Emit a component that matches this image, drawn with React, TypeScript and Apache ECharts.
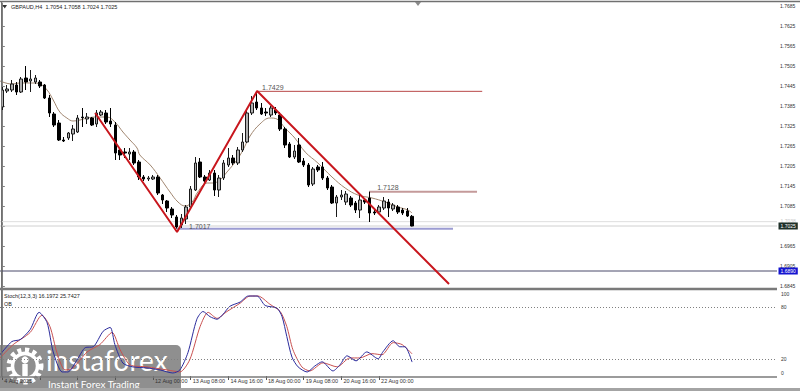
import React, { useEffect, useRef } from 'react';
import * as echarts from 'echarts';

const FONT = 'Liberation Sans, Arial, sans-serif';
const SLOTS = 165;
const categories = Array.from({ length: SLOTS }, (_, i) => String(i));

const titleText = 'GBPAUD,H4  1.7054 1.7058 1.7024 1.7025';
const stochTitle = 'Stoch(12,3,3) 16.1972 25.7427';

// [open, close, low, high]
const candles: number[][] = [
  [1.7382, 1.7433, 1.7373, 1.7442],
  [1.7430, 1.7436, 1.7424, 1.7448],
  [1.7433, 1.7451, 1.7427, 1.7463],
  [1.7448, 1.7427, 1.7418, 1.7457],
  [1.7427, 1.7466, 1.7424, 1.7472],
  [1.7469, 1.7457, 1.7433, 1.7505],
  [1.7460, 1.7466, 1.7427, 1.7493],
  [1.7457, 1.7469, 1.7451, 1.7478],
  [1.7457, 1.7445, 1.7439, 1.7463],
  [1.7448, 1.7409, 1.7406, 1.7451],
  [1.7409, 1.7364, 1.7352, 1.7418],
  [1.7361, 1.7328, 1.7322, 1.7367],
  [1.7334, 1.7283, 1.7280, 1.7343],
  [1.7283, 1.7280, 1.7277, 1.7292],
  [1.7289, 1.7304, 1.7283, 1.7307],
  [1.7301, 1.7316, 1.7280, 1.7328],
  [1.7307, 1.7349, 1.7304, 1.7358],
  [1.7352, 1.7350, 1.7322, 1.7379],
  [1.7346, 1.7352, 1.7331, 1.7364],
  [1.7349, 1.7328, 1.7325, 1.7352],
  [1.7331, 1.7364, 1.7322, 1.7373],
  [1.7358, 1.7367, 1.7355, 1.7373],
  [1.7364, 1.7337, 1.7331, 1.7373],
  [1.7340, 1.7331, 1.7322, 1.7379],
  [1.7328, 1.7244, 1.7223, 1.7337],
  [1.7253, 1.7238, 1.7223, 1.7259],
  [1.7247, 1.7244, 1.7229, 1.7259],
  [1.7241, 1.7247, 1.7223, 1.7259],
  [1.7247, 1.7214, 1.7208, 1.7253],
  [1.7217, 1.7172, 1.7163, 1.7223],
  [1.7172, 1.7166, 1.7160, 1.7178],
  [1.7166, 1.7169, 1.7160, 1.7175],
  [1.7166, 1.7172, 1.7163, 1.7178],
  [1.7172, 1.7124, 1.7118, 1.7178],
  [1.7118, 1.7103, 1.7091, 1.7121],
  [1.7100, 1.7079, 1.7067, 1.7103],
  [1.7076, 1.7058, 1.7049, 1.7082],
  [1.7052, 1.7022, 1.7017, 1.7058],
  [1.7028, 1.7049, 1.7019, 1.7061],
  [1.7046, 1.7082, 1.7031, 1.7088],
  [1.7082, 1.7136, 1.7079, 1.7145],
  [1.7133, 1.7214, 1.7130, 1.7232],
  [1.7217, 1.7172, 1.7169, 1.7229],
  [1.7172, 1.7160, 1.7154, 1.7178],
  [1.7163, 1.7184, 1.7160, 1.7193],
  [1.7184, 1.7133, 1.7115, 1.7193],
  [1.7133, 1.7169, 1.7112, 1.7178],
  [1.7169, 1.7214, 1.7163, 1.7223],
  [1.7208, 1.7229, 1.7202, 1.7259],
  [1.7229, 1.7214, 1.7208, 1.7238],
  [1.7214, 1.7253, 1.7208, 1.7262],
  [1.7253, 1.7277, 1.7247, 1.7304],
  [1.7277, 1.7364, 1.7274, 1.7373],
  [1.7364, 1.7394, 1.7358, 1.7415],
  [1.7397, 1.7379, 1.7373, 1.7429],
  [1.7379, 1.7361, 1.7358, 1.7394],
  [1.7367, 1.7364, 1.7355, 1.7379],
  [1.7358, 1.7379, 1.7352, 1.7385],
  [1.7373, 1.7364, 1.7358, 1.7382],
  [1.7358, 1.7316, 1.7310, 1.7367],
  [1.7316, 1.7268, 1.7259, 1.7322],
  [1.7271, 1.7232, 1.7229, 1.7277],
  [1.7232, 1.7250, 1.7226, 1.7268],
  [1.7268, 1.7217, 1.7214, 1.7289],
  [1.7220, 1.7208, 1.7202, 1.7229],
  [1.7208, 1.7148, 1.7142, 1.7214],
  [1.7151, 1.7196, 1.7145, 1.7202],
  [1.7202, 1.7193, 1.7187, 1.7208],
  [1.7202, 1.7169, 1.7163, 1.7217],
  [1.7169, 1.7139, 1.7133, 1.7175],
  [1.7142, 1.7094, 1.7091, 1.7148],
  [1.7094, 1.7112, 1.7052, 1.7118],
  [1.7112, 1.7118, 1.7103, 1.7133],
  [1.7097, 1.7121, 1.7088, 1.7130],
  [1.7109, 1.7088, 1.7082, 1.7115],
  [1.7094, 1.7073, 1.7064, 1.7100],
  [1.7073, 1.7103, 1.7049, 1.7118],
  [1.7103, 1.7097, 1.7091, 1.7109],
  [1.7109, 1.7064, 1.7037, 1.7128],
  [1.7067, 1.7064, 1.7058, 1.7073],
  [1.7067, 1.7082, 1.7061, 1.7088],
  [1.7079, 1.7100, 1.7073, 1.7112],
  [1.7097, 1.7079, 1.7052, 1.7106],
  [1.7076, 1.7088, 1.7070, 1.7094],
  [1.7082, 1.7067, 1.7061, 1.7088],
  [1.7073, 1.7064, 1.7058, 1.7079],
  [1.7070, 1.7055, 1.7052, 1.7079],
  [1.7054, 1.7025, 1.7024, 1.7058],
];

// moving average: [bar index, price]
const maPoints: number[][] = [
  [-0.5, 1.7460], [2, 1.7451], [3.8, 1.7454], [6.5, 1.7454], [8, 1.7451], [9.5, 1.7433],
  [10.8, 1.7403], [12.2, 1.7367], [13.7, 1.7349], [15, 1.7340], [16.5, 1.7343], [18, 1.7349],
  [20.1, 1.7352], [22.2, 1.7352], [23.9, 1.7337], [25.6, 1.7307], [27.1, 1.7283], [28.6, 1.7259],
  [29.2, 1.7238], [31.4, 1.7208], [33.5, 1.7169], [35.6, 1.7127], [37.3, 1.7097], [38.8, 1.7085],
  [40.3, 1.7097], [41.5, 1.7127], [43.5, 1.7154], [44.7, 1.7154], [46.2, 1.7163], [47.7, 1.7187],
  [49.8, 1.7223], [51.1, 1.7253], [52.6, 1.7295], [54.7, 1.7331], [56.8, 1.7349], [58.3, 1.7346],
  [60, 1.7319], [62.1, 1.7289], [64.3, 1.7247], [67, 1.7214], [70, 1.7172], [72.8, 1.7139],
  [75.5, 1.7118], [78.5, 1.7109], [81.3, 1.7097], [84, 1.7082], [86.1, 1.7073], [87, 1.7064],
];

// red zig-zag trend line: [bar index, price]
const trendPoints: number[][] = [
  [19.7, 1.7364], [37.1, 1.7007], [54.1, 1.7430], [94.85, 1.6851],
];

// horizontal levels
const levelTexts = ['1.7429', '1.7128', '1.7017'];
const levelPrices = [1.7429, 1.7128, 1.7017];
const levelFrom = [54.1, 77.9, 37.1];
const levelTo = [101.9, 100.8, 95.7];

const askPrice = 1.7038;
const bidPrice = 1.7025;
const alertPrice = 1.6890;

const priceTicks = [1.6845, 1.6905, 1.6965, 1.7025, 1.7085, 1.7145, 1.7205, 1.7265, 1.7325,
  1.7385, 1.7445, 1.7505, 1.7565, 1.7625, 1.7685];
const stochTicks = [0, 20, 80, 100];
const stochLevels = [80, 20];

const dateIndex = [0, 32, 40, 48, 56, 64, 72, 80];
const dateText = ['4 Aug 2025', '12 Aug 00:00', '13 Aug 08:00', '14 Aug 16:00', '18 Aug 00:00',
  '19 Aug 08:00', '20 Aug 16:00', '22 Aug 00:00'];
const hiddenTickIndex = [8, 16, 24];

const stochK: number[][] = [
  [-0.5, 24.7], [2, 40], [3.8, 42.4], [5.9, 54], [7.8, 74], [9.5, 62], [10.8, 28], [12.7, 4.7],
  [13.9, 4.7], [15.9, 19], [17.6, 33], [19.3, 34], [21.4, 52], [22.9, 56.5], [23.9, 36.5],
  [25.6, 15], [27.7, 10.6], [30.7, 9.4], [33.5, 7], [36.2, 3.5], [37.7, 7], [39.4, 27],
  [41.3, 66], [42.6, 75], [44.1, 69], [45.6, 66], [46.9, 72], [48.3, 81], [50.5, 86],
  [52.2, 93], [54.1, 93], [55.8, 82], [58.3, 79], [59.4, 69], [60.4, 46], [61.5, 22],
  [62.8, 10.6], [64.7, 4.7], [66.4, 11.8], [67.9, 16.5], [70.2, 5.9], [71.7, 13], [73.2, 23.5],
  [75.1, 17.6], [77.4, 28], [79.8, 20], [80.8, 28], [83, 41], [84.4, 34], [85.5, 34], [87, 16.2],
];
const stochD: number[][] = [
  [-0.5, 21], [2.3, 36.5], [5.9, 50.6], [8.4, 70.6], [10.1, 57.6], [11.6, 27], [13.3, 7],
  [15, 9.4], [18, 28], [20.7, 36.5], [23.3, 50.6], [25, 30.6], [27.1, 13], [30.7, 10.6],
  [35, 7], [37.7, 4.7], [39.8, 19], [42, 57.6], [43.7, 74], [45.6, 67], [47.7, 75],
  [50.5, 84.7], [52.6, 93], [54.3, 93], [56.8, 83.5], [59, 75], [60.4, 57.6], [61.7, 30.6],
  [63.6, 10.6], [65.3, 5.9], [68.1, 15.3], [71.1, 10.6], [73.8, 21], [75.9, 21], [78.5, 26],
  [80.6, 24.7], [83, 38.8], [84.9, 36.5], [87, 25.7],
];

const levelColors = ['#b84848', '#c49a9a', '#9c9cd2'];
const levelWidths = [1, 2, 2];
const levelOffsets = [[5, 1], [8, 1], [12, 3]];

export default function App() {
  const ref = useRef<HTMLDivElement>(null);
  useEffect(() => {
    if (!ref.current) return;
    const chart = echarts.init(ref.current, undefined, { renderer: 'svg' });
    const dateMap: Record<number, string> = {};
    dateIndex.forEach((d, k) => { dateMap[d] = dateText[k]; });
    const tickSet = new Set<number>([...dateIndex, ...hiddenTickIndex]);

    const levelSeries = levelPrices.map((p, k) => ({
      type: 'line',
      xAxisIndex: 1,
      yAxisIndex: 0,
      symbol: 'circle',
      symbolSize: 1,
      showSymbol: true,
      itemStyle: { color: 'rgba(0,0,0,0)' },
      lineStyle: { color: levelColors[k], width: levelWidths[k] },
      z: 3,
      data: [
        {
          value: [levelFrom[k], p],
          label: {
            show: true,
            formatter: levelTexts[k],
            position: 'top',
            align: 'left',
            offset: levelOffsets[k],
            distance: 1,
            color: '#555',
            fontSize: 7,
            fontFamily: FONT,
          },
        },
        { value: [levelTo[k], p], label: { show: false } },
      ],
    }));

    const fullLine = (p: number, color: string, label: any, z: number) => ({
      type: 'line',
      xAxisIndex: 1,
      yAxisIndex: 0,
      symbol: 'circle',
      symbolSize: 1,
      showSymbol: true,
      clip: false,
      itemStyle: { color: 'rgba(0,0,0,0)' },
      lineStyle: { color, width: 1 },
      z,
      data: [
        { value: [-0.5, p], label: { show: false } },
        { value: [SLOTS - 0.5, p], label },
      ],
    });

    const tagLabel = (text: string, bg: string) => ({
      show: true,
      position: 'right',
      formatter: text,
      distance: 1,
      color: '#fff',
      backgroundColor: bg,
      fontSize: 5,
      fontFamily: FONT,
      padding: [1, 2, 1, 2],
    });

    const option: any = {
      animation: false,
      backgroundColor: '#ffffff',
      grid: [
        { left: 0, right: 23, top: 3, height: 285 },
        { left: 0, right: 23, top: 290, height: 86 },
      ],
      xAxis: [
        { type: 'category', gridIndex: 0, data: categories, show: false, boundaryGap: true },
        { type: 'value', gridIndex: 0, min: -0.5, max: SLOTS - 0.5, show: false },
        {
          type: 'category', gridIndex: 1, data: categories, boundaryGap: true,
          axisLine: { show: false },
          axisTick: {
            show: true, alignWithLabel: true, length: 4,
            interval: (i: number) => tickSet.has(i),
            lineStyle: { color: '#555' },
          },
          axisLabel: {
            interval: (i: number) => dateMap[i] !== undefined,
            formatter: (_v: string, i: number) => dateMap[i] || '',
            align: 'left', margin: 2, padding: [0, 0, 0, 2],
            fontSize: 5.5, color: '#333', fontFamily: FONT,
          },
          splitLine: { show: false },
        },
        { type: 'value', gridIndex: 1, min: -0.5, max: SLOTS - 0.5, show: false },
      ],
      yAxis: [
        {
          type: 'value', gridIndex: 0, position: 'right', min: 1.6839, max: 1.7694,
          axisLine: { show: true, lineStyle: { color: '#808080' } },
          axisTick: { show: true, customValues: priceTicks, length: 2.5, lineStyle: { color: '#808080' } },
          axisLabel: {
            customValues: priceTicks, formatter: (v: number) => v.toFixed(4),
            fontSize: 5, color: '#333', margin: 3, fontFamily: FONT,
          },
          splitLine: { show: false },
        },
        {
          type: 'value', gridIndex: 1, position: 'right', min: 0, max: 100,
          axisLine: { show: true, lineStyle: { color: '#808080' } },
          axisTick: { show: false },
          axisLabel: {
            customValues: stochTicks,
            formatter: (v: number) => (v === 100 ? '{t|100}' : v === 0 ? '{b|0}' : String(v)),
            rich: {
              t: { fontSize: 5, color: '#333', fontFamily: FONT, padding: [7, 0, 0, 0] },
              b: { fontSize: 5, color: '#333', fontFamily: FONT, padding: [0, 0, 7, 0] },
            },
            fontSize: 5, color: '#333', margin: 4, fontFamily: FONT,
          },
          splitLine: { show: false },
        },
      ],
      series: [
        fullLine(askPrice, '#dedede', {
          show: true, position: 'right', formatter: askPrice.toFixed(4), distance: 3,
          color: '#c8c8c8', fontSize: 5, fontFamily: FONT, offset: [0, -1],
        }, 1),
        fullLine(bidPrice, '#d0d0d0', tagLabel(bidPrice.toFixed(4), '#1f3028'), 2),
        fullLine(alertPrice, '#4a4a6a', tagLabel(alertPrice.toFixed(4), '#1414d0'), 2),
        {
          type: 'candlestick',
          xAxisIndex: 0,
          yAxisIndex: 0,
          data: candles,
          barWidth: 3,
          z: 4,
          itemStyle: {
            color: '#b0b0b0', color0: '#000000',
            borderColor: '#1a1a1a', borderColor0: '#000000', borderWidth: 1,
          },
        },
        {
          type: 'line', xAxisIndex: 1, yAxisIndex: 0, data: maPoints, smooth: 0.4,
          symbol: 'none', lineStyle: { color: '#a08670', width: 1 }, z: 3,
        },
        ...levelSeries,
        {
          type: 'line', xAxisIndex: 1, yAxisIndex: 0, data: trendPoints,
          symbol: 'none', lineStyle: { color: '#c8161d', width: 2 }, z: 6,
        },
        {
          type: 'line', xAxisIndex: 3, yAxisIndex: 1, data: stochK, smooth: 0.25,
          symbol: 'none', lineStyle: { color: '#2b2b9c', width: 1 }, z: 4,
          markLine: {
            symbol: 'none', silent: true, animation: false, label: { show: false },
            lineStyle: { color: '#808080', type: [1, 2], width: 1 },
            data: stochLevels.map((v) => ({ yAxis: v })),
          },
        },
        {
          type: 'line', xAxisIndex: 3, yAxisIndex: 1, data: stochD, smooth: 0.25,
          symbol: 'none', lineStyle: { color: '#c85050', width: 1 }, z: 3,
        },
      ],
      graphic: [
        { type: 'line', z: 100, shape: { x1: 0, y1: 1.5, x2: 800, y2: 1.5 }, style: { stroke: '#707070', lineWidth: 1.5 } },
        { type: 'line', z: 100, shape: { x1: 1.5, y1: 2, x2: 1.5, y2: 377 }, style: { stroke: '#707070', lineWidth: 1 } },
        { type: 'line', z: 100, shape: { x1: 0, y1: 289, x2: 777, y2: 289 }, style: { stroke: '#7a7a7a', lineWidth: 2.5 } },
        { type: 'line', z: 100, shape: { x1: 0, y1: 377, x2: 777, y2: 377 }, style: { stroke: '#7a7a7a', lineWidth: 1.5 } },
        { type: 'rect', z: 100, shape: { x: 0, y: 388, width: 800, height: 3 }, style: { fill: '#a4a4a4' } },
        { type: 'polygon', z: 100, shape: { points: [[415, 2], [421, 2], [418, 6]] }, style: { fill: '#8a8a8a' } },
        { type: 'polygon', z: 100, shape: { points: [[2.5, 5], [7, 5], [4.75, 8.5]] }, style: { fill: '#333' } },
        { type: 'text', z: 100, x: 11, y: 7, style: { text: titleText, fontSize: 5.5, fill: '#222', fontFamily: FONT, verticalAlign: 'middle' } },
        { type: 'text', z: 100, x: 4, y: 296, style: { text: stochTitle, fontSize: 5.5, fill: '#222', fontFamily: FONT, verticalAlign: 'middle' } },
        { type: 'text', z: 100, x: 4, y: 304, style: { text: 'OB', fontSize: 5.5, fill: '#222', fontFamily: FONT, verticalAlign: 'middle' } },
        {
          type: 'group', z: 200,
          children: [
            { type: 'rect', shape: { x: 0, y: 345, width: 181, height: 43, r: [0, 5, 0, 0] }, style: { fill: 'rgba(112,112,112,0.78)' } },
            { type: 'circle', shape: { cx: 25, cy: 366, r: 16 }, style: { fill: 'none', stroke: '#ffffff', lineWidth: 5, lineDash: [4, 3.5] } },
            { type: 'circle', shape: { cx: 25, cy: 366, r: 12.5 }, style: { fill: 'none', stroke: '#ffffff', lineWidth: 3.5 } },
            { type: 'circle', shape: { cx: 25, cy: 360, r: 3.6 }, style: { fill: '#ffffff' } },
            { type: 'rect', shape: { x: 22.3, y: 364, width: 5.4, height: 13 }, style: { fill: '#ffffff' } },
            { type: 'text', x: 46, y: 359.5, style: { text: 'instaforex', fontSize: 28, fill: '#ffffff', fontFamily: 'Lato, sans-serif', verticalAlign: 'middle' } },
            { type: 'text', x: 48, y: 383.5, style: { text: 'Instant Forex Trading', fontSize: 10, fill: '#ffffff', fontFamily: 'Lato, sans-serif', verticalAlign: 'middle' } },
          ],
        },
      ],
    };
    chart.setOption(option);
    return () => chart.dispose();
  }, []);
  return (
    <div
      ref={ref}
      style={{ position: 'absolute', left: 0, top: 0, width: 800, height: 391, background: '#fff' }}
    />
  );
}
